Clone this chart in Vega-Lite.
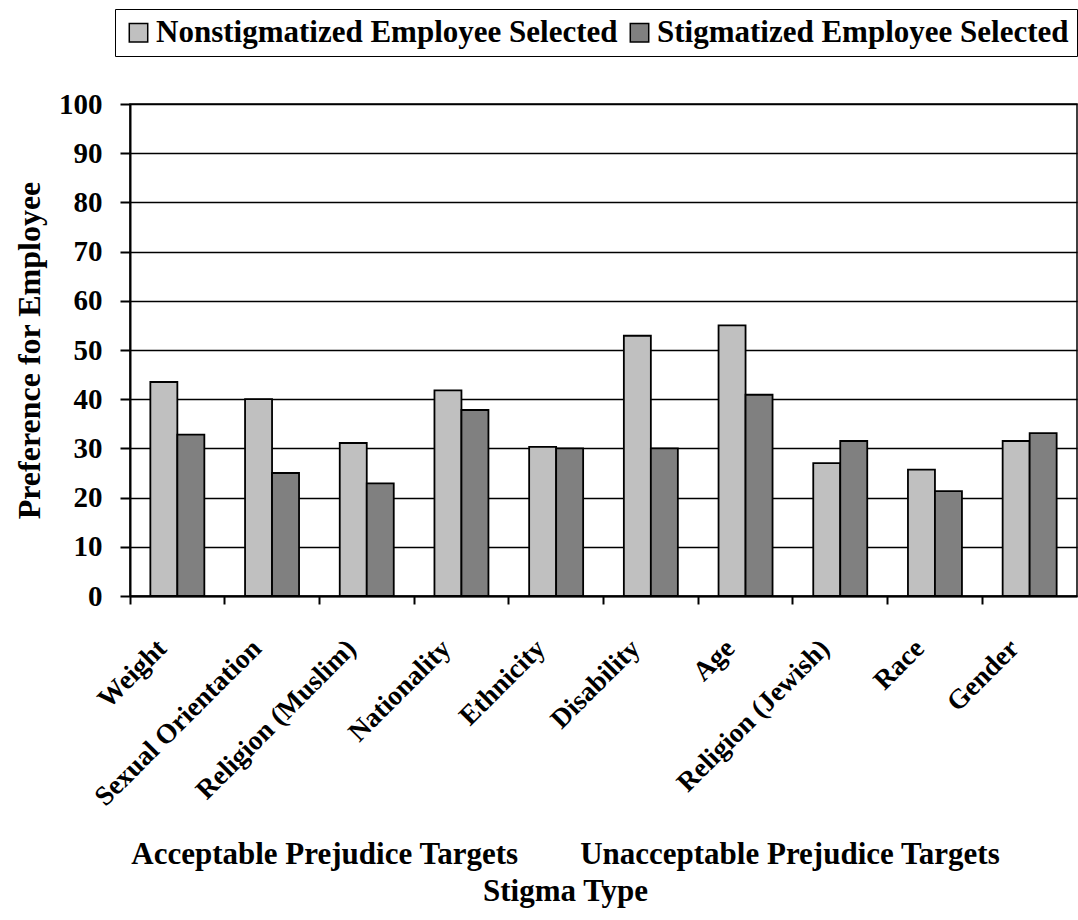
{
  "$schema": "https://vega.github.io/schema/vega-lite/v6.json",
  "width": 947,
  "height": 492,
  "autosize": {"type": "none"},
  "padding": {"left": 130, "top": 104, "right": 1, "bottom": 324},
  "background": "white",
  "config": {
    "font": "Liberation Serif",
    "view": {"stroke": "black", "strokeWidth": 1.5},
    "axis": {
      "labelFont": "Liberation Serif",
      "labelFontWeight": "bold",
      "labelColor": "black",
      "labelLimit": 0,
      "titleFont": "Liberation Serif",
      "titleFontWeight": "bold",
      "titleColor": "black",
      "titleLimit": 0,
      "domainColor": "black",
      "domainWidth": 2,
      "tickColor": "black",
      "tickWidth": 2
    },
    "legend": {
      "labelFont": "Liberation Serif",
      "labelFontWeight": "bold",
      "labelColor": "black",
      "labelLimit": 0
    }
  },
  "data": {
    "values": [
      {"stigma": "Weight", "selected": "Nonstigmatized Employee Selected", "preference": 43.5},
      {"stigma": "Weight", "selected": "Stigmatized Employee Selected", "preference": 32.8},
      {"stigma": "Sexual Orientation", "selected": "Nonstigmatized Employee Selected", "preference": 40.0},
      {"stigma": "Sexual Orientation", "selected": "Stigmatized Employee Selected", "preference": 25.0},
      {"stigma": "Religion (Muslim)", "selected": "Nonstigmatized Employee Selected", "preference": 31.1},
      {"stigma": "Religion (Muslim)", "selected": "Stigmatized Employee Selected", "preference": 22.9},
      {"stigma": "Nationality", "selected": "Nonstigmatized Employee Selected", "preference": 41.8},
      {"stigma": "Nationality", "selected": "Stigmatized Employee Selected", "preference": 37.8},
      {"stigma": "Ethnicity", "selected": "Nonstigmatized Employee Selected", "preference": 30.3},
      {"stigma": "Ethnicity", "selected": "Stigmatized Employee Selected", "preference": 30.0},
      {"stigma": "Disability", "selected": "Nonstigmatized Employee Selected", "preference": 52.9},
      {"stigma": "Disability", "selected": "Stigmatized Employee Selected", "preference": 30.0},
      {"stigma": "Age", "selected": "Nonstigmatized Employee Selected", "preference": 55.0},
      {"stigma": "Age", "selected": "Stigmatized Employee Selected", "preference": 40.9},
      {"stigma": "Religion (Jewish)", "selected": "Nonstigmatized Employee Selected", "preference": 27.0},
      {"stigma": "Religion (Jewish)", "selected": "Stigmatized Employee Selected", "preference": 31.5},
      {"stigma": "Race", "selected": "Nonstigmatized Employee Selected", "preference": 25.7},
      {"stigma": "Race", "selected": "Stigmatized Employee Selected", "preference": 21.3},
      {"stigma": "Gender", "selected": "Nonstigmatized Employee Selected", "preference": 31.5},
      {"stigma": "Gender", "selected": "Stigmatized Employee Selected", "preference": 33.1}
    ]
  },
  "mark": {"type": "bar", "stroke": "black", "strokeWidth": 1.8},
  "encoding": {
    "x": {
      "field": "stigma",
      "type": "nominal",
      "sort": null,
      "scale": {"paddingInner": 0, "paddingOuter": 0},
      "axis": {
        "bandPosition": 0,
        "labelAngle": -45,
        "labelAlign": "right",
        "labelBaseline": "middle",
        "labelFontSize": 27.5,
        "labelPadding": 40,
        "labelOffset": -15,
        "tickSize": 8,
        "grid": false,
        "title": ["Acceptable Prejudice Targets\u00a0\u00a0\u00a0\u00a0\u00a0\u00a0\u00a0\u00a0Unacceptable Prejudice Targets", "Stigma Type"],
        "titleFontSize": 31,
        "titleLineHeight": 37,
        "titleBaseline": "alphabetic",
        "titleX": 435,
        "titleY": 267
      }
    },
    "xOffset": {
      "field": "selected",
      "type": "nominal",
      "scale": {"paddingInner": 0, "paddingOuter": 0.754}
    },
    "y": {
      "field": "preference",
      "type": "quantitative",
      "scale": {"domain": [0, 100], "nice": false},
      "axis": {
        "values": [0, 10, 20, 30, 40, 50, 60, 70, 80, 90, 100],
        "grid": true,
        "gridColor": "black",
        "gridWidth": 1.5,
        "gridOpacity": 1,
        "tickSize": 10,
        "labelFontSize": 29,
        "labelPadding": 18,
        "title": "Preference for Employee",
        "titleFontSize": 32,
        "titlePadding": 12
      }
    },
    "fill": {
      "field": "selected",
      "type": "nominal",
      "scale": {
        "domain": ["Nonstigmatized Employee Selected", "Stigmatized Employee Selected"],
        "range": ["#C0C0C0", "#808080"]
      },
      "legend": {
        "orient": "none",
        "legendX": -15,
        "legendY": -95,
        "direction": "horizontal",
        "title": null,
        "symbolType": "square",
        "symbolSize": 340,
        "symbolStrokeColor": "black",
        "symbolStrokeWidth": 1.5,
        "labelFontSize": 31,
        "labelOffset": 2,
        "columnPadding": 6,
        "strokeColor": "black",
        "fillColor": "white",
        "padding": 8
      }
    }
  }
}
